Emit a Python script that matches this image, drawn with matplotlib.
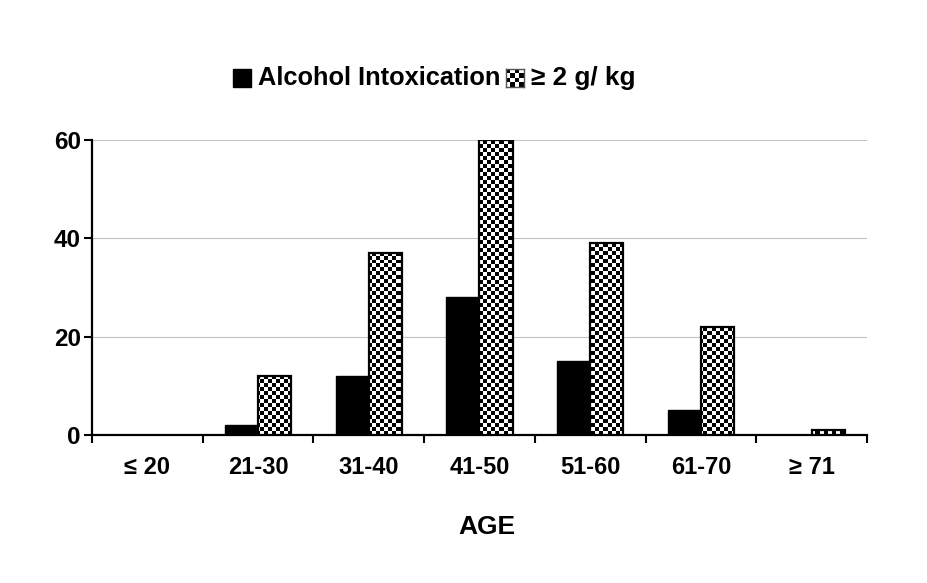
import numpy as np
import matplotlib
matplotlib.use("Agg")
import matplotlib.pyplot as plt
from matplotlib.patches import Rectangle

categories = ["≤ 20", "21-30", "31-40", "41-50", "51-60", "61-70", "≥ 71"]
intox = [0, 2, 12, 28, 15, 5, 0]
high = [0, 12, 37, 60, 39, 22, 1]
yticks = [0, 20, 40, 60]
series_names = ["Alcohol Intoxication", "≥ 2 g/ kg"]

plt.rcParams['font.family'] = ['Liberation Sans', 'DejaVu Sans']
plt.rcParams['font.weight'] = 'bold'

W, H = 928, 583
fig = plt.figure(figsize=(W / 100, H / 100), dpi=100)
ax = fig.add_axes([92 / W, 1 - 435 / H, (867 - 92) / W, (435 - 140) / H])

x = np.arange(len(categories))
bw = 0.3
lw_i = [1 if v > 0 else 0 for v in intox]
lw_h = [1.6 if v > 0 else 0 for v in high]
ax.bar(x - bw / 2, intox, bw, color='black', edgecolor='black', linewidth=lw_i, zorder=3)
hb = ax.bar(x + bw / 2, high, bw, color='white', edgecolor='none', linewidth=0, zorder=2)
ax.bar(x + bw / 2, high, bw, facecolor='none', edgecolor='black', linewidth=lw_h, zorder=4)

# checker pattern
cell = 4.0
nx = int(round(775 / cell))
ny = int(round(295 / cell))
chk = (np.add.outer(np.arange(ny), np.arange(nx)) % 2).astype(float)
for r, v in zip(hb.patches, high):
    if v <= 0:
        continue
    im = ax.imshow(chk, cmap='gray', extent=(-0.5, 6.5, 0, 60), aspect='auto',
                   interpolation='nearest', zorder=3, vmin=0, vmax=1)
    im.set_clip_path(r)

ax.set_xlim(-0.5, 6.5)
ax.set_ylim(0, 60)
ax.set_yticks(yticks)
ax.set_yticklabels([str(v) for v in yticks], fontsize=17.5, fontweight='bold')
ax.set_xticks(x)
ax.set_xticklabels(categories, fontsize=17, fontweight='bold')
ax.set_xticks(np.arange(-0.5, 7, 1), minor=True)
ax.tick_params(axis='x', which='major', length=0, pad=15)
ax.tick_params(axis='x', which='minor', length=6, width=1.5, direction='out')
ax.tick_params(axis='y', length=6, width=1.5, direction='out', pad=2)
for s in ['top', 'right']:
    ax.spines[s].set_visible(False)
for s in ['left', 'bottom']:
    ax.spines[s].set_linewidth(1.6)
ax.yaxis.grid(True, color='#c4c4c4', linewidth=0.8, zorder=0)
ax.set_axisbelow(True)

fig.text(487 / W, 1 - 527 / H, "AGE", ha='center', va='center', fontsize=19, fontweight='bold')

# legend (manual)
fig.patches.append(Rectangle((233 / W, 1 - 87 / H), 18 / W, 18 / H, transform=fig.transFigure,
                             facecolor='black', edgecolor='black'))
fig.text(258 / W, 1 - 78 / H, series_names[0], ha='left', va='center', fontsize=18.3, fontweight='bold')
lax = fig.add_axes([506 / W, 1 - 87 / H, 18 / W, 18 / H])
lax.imshow((np.add.outer(np.arange(4), np.arange(4)) % 2).astype(float), cmap='gray',
           interpolation='nearest', vmin=0, vmax=1)
lax.set_xticks([])
lax.set_yticks([])
for s in lax.spines.values():
    s.set_color('#555555')
    s.set_linewidth(1)
fig.text(531 / W, 1 - 78 / H, series_names[1], ha='left', va='center', fontsize=18.8, fontweight='bold')

fig.savefig("out.png", dpi=100)
